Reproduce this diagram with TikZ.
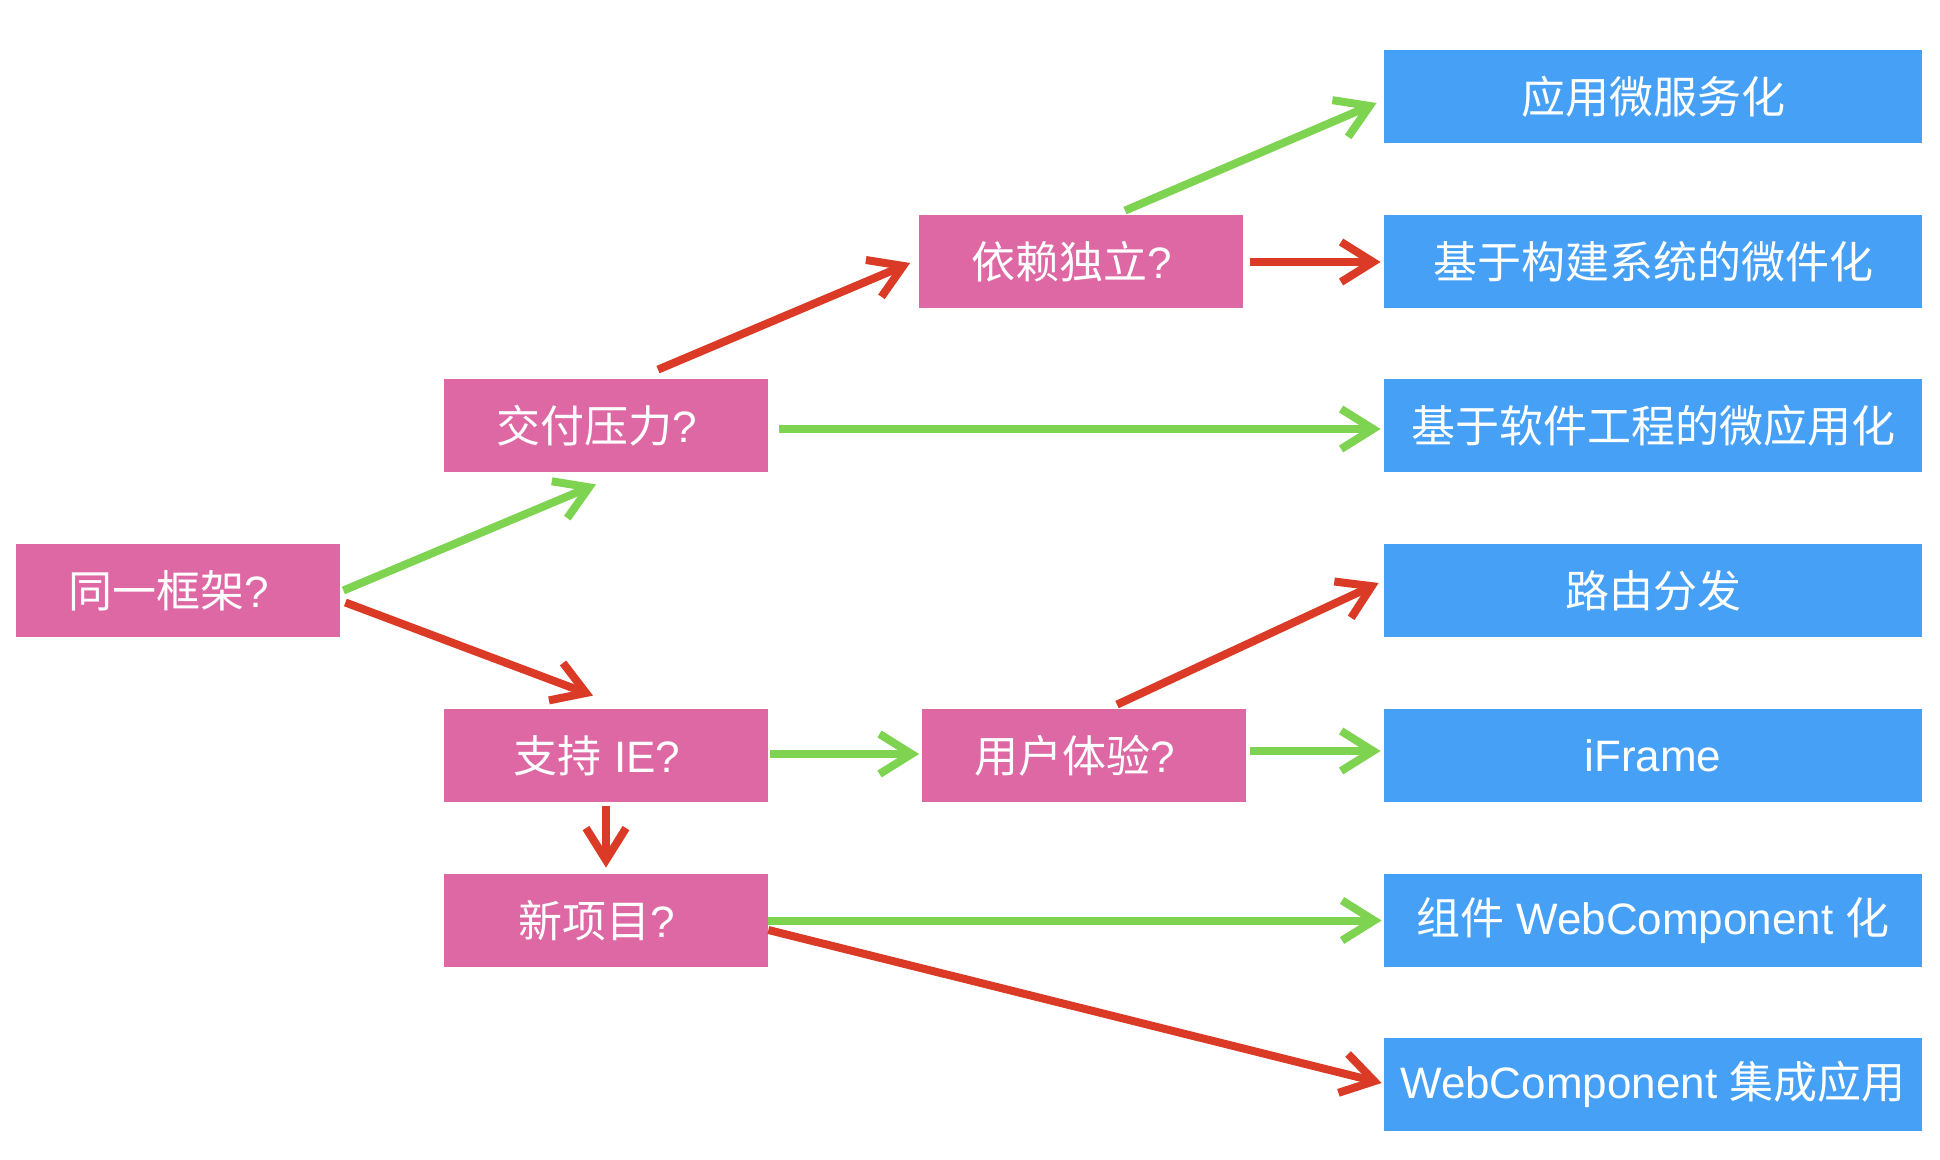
\documentclass[tikz,border=0pt]{standalone}
\usepackage{fontspec}
\setmainfont{Liberation Sans}
\newfontfamily\cjk{Noto Sans CJK SC}
\usetikzlibrary{arrows.meta,calc}
\definecolor{qpink}{HTML}{DE68A4}
\definecolor{rblue}{HTML}{46A1F6}
\definecolor{agreen}{HTML}{7ED351}
\definecolor{ared}{HTML}{DB3B26}
\tikzset{
  qbox/.style={fill=qpink, draw=none, minimum width=162pt, minimum height=46.5pt, inner sep=0pt, text=white, font=\fontsize{22pt}{26pt}\selectfont, execute at end node={\kern9pt}},
  rbox/.style={fill=rblue, draw=none, minimum width=269pt, minimum height=46.5pt, inner sep=0pt, text=white, font=\fontsize{22pt}{26pt}\selectfont},
  yes/.style={draw=agreen, line width=4pt, -{Straight Barb[length=16pt,width=20pt]}},
  no/.style={draw=ared, line width=4pt, -{Straight Barb[length=16pt,width=20pt]}}
}
\begin{document}
\begin{tikzpicture}[x=0.5pt,y=-0.5pt]
\useasboundingbox[fill=white] (0,0) rectangle (1940,1160);
% question boxes
\node[qbox] (A) at (178,590.5) {{\cjk 同一框架}?};
\node[qbox] (B) at (606,425.5) {{\cjk 交付压力}?};
\node[qbox] (C) at (1080.5,261.5) {{\cjk 依赖独立}?};
\node[qbox] (D) at (606,755.5) {{\cjk 支持} IE?};
\node[qbox] (E) at (1083.5,755.5) {{\cjk 用户体验}?};
\node[qbox] (F) at (606,920.5) {{\cjk 新项目}?};
% result boxes
\node[rbox] (R1) at (1653,96.5) {\cjk 应用微服务化};
\node[rbox] (R2) at (1653,261.5) {\cjk 基于构建系统的微件化};
\node[rbox] (R3) at (1653,425.5) {\cjk 基于软件工程的微应用化};
\node[rbox] (R4) at (1653,590.5) {\cjk 路由分发};
\node[rbox] (R5) at (1653,755.5) {iFrame};
\node[rbox] (R6) at (1653,920.5) {{\cjk 组件} WebComponent {\cjk 化}};
\node[rbox] (R7) at (1653,1084.5) {WebComponent {\cjk 集成应用}};
% connectors
\draw[yes] ($(A.east)+(3,0)$) -- ($(B.south)+(-10,12)$);
\draw[no]  ($(A.east)+(5,12)$) -- ($(D.north)+(-13,-13)$);
\draw[no]  ($(B.north)+(52,-9)$) -- ($(C.west)+(-8,1.5)$);
\draw[yes] ($(B.east)+(11,3.5)$) -- ($(R3.west)+(-3,3.5)$);
\draw[yes] ($(C.north)+(44.5,-4)$) -- ($(R1.west)+(-7,6.5)$);
\draw[no]  ($(C.east)+(7,0.5)$) -- ($(R2.west)+(-3,0.5)$);
\draw[yes] ($(D.east)+(2,-1.5)$) -- ($(E.west)+(-2,-1.5)$);
\draw[no]  ($(D.south)+(0,4)$) -- ($(F.north)+(0,-6)$);
\draw[no]  ($(E.north)+(33.5,-4)$) -- ($(R4.west)+(-5,-7.5)$);
\draw[yes] ($(E.east)+(4,-4.5)$) -- ($(R5.west)+(-3,-4.5)$);
\draw[yes] ($(F.east)+(0,0)$) -- ($(R6.west)+(-2,0)$);
\draw[no]  ($(F.east)+(0,9.5)$) -- ($(R7.west)+(-2,-1.5)$);
\end{tikzpicture}
\end{document}
